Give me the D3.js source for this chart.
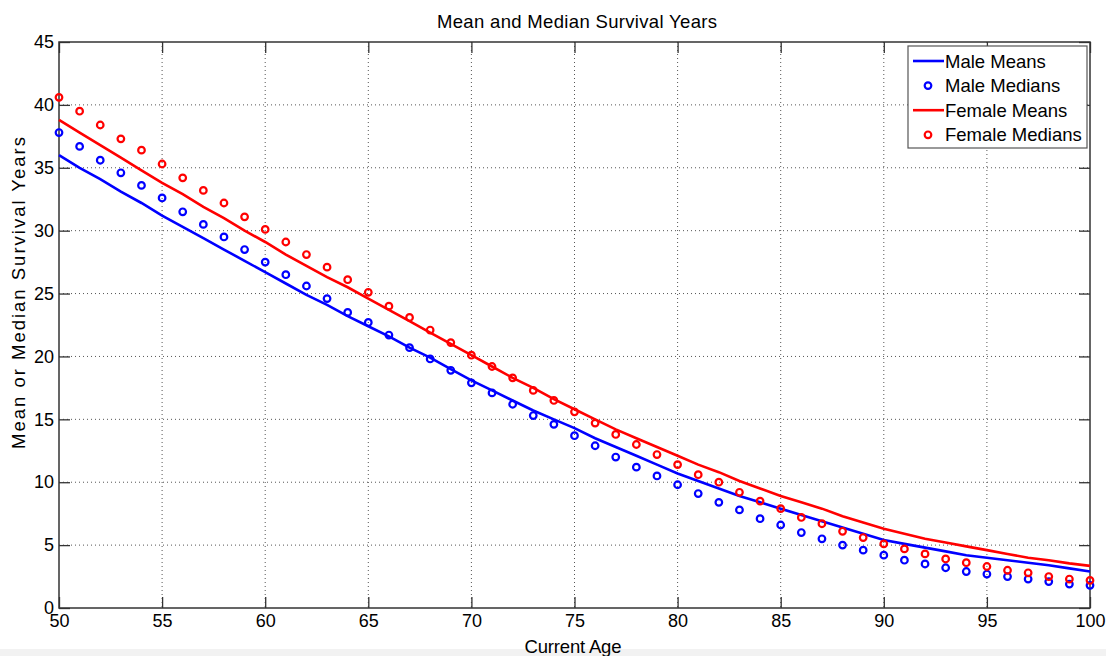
<!DOCTYPE html>
<html>
<head>
<meta charset="utf-8">
<script src="https://cdn.jsdelivr.net/npm/d3@7"></script>
<style>
body { margin: 0; background: #fff; }
text { font-family: "Liberation Sans", Arial, sans-serif; fill: #000; }
</style>
</head>
<body>
<svg id="chart" width="1106" height="656"></svg>
<script>
var ages = d3.range(50, 101);

var maleMeans = [36.0, 35.0, 34.1, 33.1, 32.2, 31.2, 30.3, 29.4, 28.5, 27.6,
  26.7, 25.8, 24.9, 24.1, 23.2, 22.4, 21.6, 20.7, 19.9, 19.0,
  18.1, 17.3, 16.5, 15.7, 15.0, 14.3, 13.5, 12.8, 12.1, 11.4,
  10.7, 10.1, 9.5, 8.9, 8.4, 7.9, 7.4, 6.9, 6.4, 5.9,
  5.4, 5.1, 4.8, 4.5, 4.2, 4.0, 3.8, 3.6, 3.4, 3.15, 2.9];

var maleMedians = [37.8, 36.7, 35.6, 34.6, 33.6, 32.6, 31.5, 30.5, 29.5, 28.5,
  27.5, 26.5, 25.6, 24.6, 23.5, 22.7, 21.7, 20.7, 19.8, 18.9,
  17.9, 17.1, 16.2, 15.3, 14.6, 13.7, 12.9, 12.0, 11.2, 10.5,
  9.8, 9.1, 8.4, 7.8, 7.1, 6.6, 6.0, 5.5, 5.0, 4.6,
  4.2, 3.8, 3.5, 3.2, 2.9, 2.7, 2.5, 2.3, 2.1, 1.9, 1.8];

var femaleMeans = [38.8, 37.8, 36.8, 35.8, 34.8, 33.8, 32.9, 31.9, 31.0, 30.0,
  29.1, 28.1, 27.2, 26.3, 25.5, 24.6, 23.7, 22.8, 21.9, 21.0,
  20.1, 19.2, 18.3, 17.5, 16.6, 15.8, 15.0, 14.2, 13.5, 12.8,
  12.1, 11.4, 10.8, 10.1, 9.5, 8.9, 8.4, 7.9, 7.3, 6.8,
  6.3, 5.9, 5.5, 5.2, 4.9, 4.6, 4.3, 4.0, 3.8, 3.55, 3.35];

var femaleMedians = [40.6, 39.5, 38.4, 37.3, 36.4, 35.3, 34.2, 33.2, 32.2, 31.1,
  30.1, 29.1, 28.1, 27.1, 26.1, 25.1, 24.0, 23.1, 22.1, 21.1,
  20.1, 19.2, 18.3, 17.3, 16.5, 15.6, 14.7, 13.8, 13.0, 12.2,
  11.4, 10.6, 10.0, 9.2, 8.5, 7.9, 7.2, 6.7, 6.1, 5.6,
  5.1, 4.7, 4.3, 3.9, 3.6, 3.3, 3.0, 2.8, 2.5, 2.3, 2.2];

var xTicks = [50, 55, 60, 65, 70, 75, 80, 85, 90, 95, 100];
var yTicks = [0, 5, 10, 15, 20, 25, 30, 35, 40, 45];

var margin = {top: 42, right: 16, bottom: 48, left: 59};
var width = 1106 - margin.left - margin.right;
var height = 656 - margin.top - margin.bottom;

var svg = d3.select('#chart');
svg.append('rect').attr('x', 0).attr('y', 649).attr('width', 1106).attr('height', 7).attr('fill', '#f2f2f2');

var g = svg.append('g').attr('transform', 'translate(' + margin.left + ',' + margin.top + ')');

var x = d3.scaleLinear().domain([50, 100]).range([0, width]);
var y = d3.scaleLinear().domain([0, 45]).range([height, 0]);

// grid
g.selectAll('.vgrid').data(xTicks.slice(1, -1)).enter().append('line')
  .attr('x1', d => x(d)).attr('x2', d => x(d)).attr('y1', 0).attr('y2', height)
  .attr('stroke', '#555').attr('stroke-width', 1).attr('stroke-dasharray', '1,3');
g.selectAll('.hgrid').data(yTicks.slice(1, -1)).enter().append('line')
  .attr('x1', 0).attr('x2', width).attr('y1', d => y(d)).attr('y2', d => y(d))
  .attr('stroke', '#555').attr('stroke-width', 1).attr('stroke-dasharray', '1,3');

// axes (ticks inside)
function styleAxis(sel) {
  sel.select('.domain').remove();
  sel.selectAll('line').attr('stroke', '#333').attr('stroke-width', 1.3);
  sel.selectAll('text').style('font-size', '18px').style('font-family', '"Liberation Sans", Arial, sans-serif');
}
g.append('g').attr('transform', 'translate(0,' + height + ')')
  .call(d3.axisBottom(x).tickValues(xTicks).tickSize(-11).tickPadding(6))
  .call(styleAxis);
g.append('g').call(d3.axisTop(x).tickValues(xTicks).tickSize(-11).tickFormat(''))
  .call(styleAxis);
g.append('g').call(d3.axisLeft(y).tickValues(yTicks).tickSize(-11).tickPadding(5))
  .call(styleAxis);
g.append('g').attr('transform', 'translate(' + width + ',0)')
  .call(d3.axisRight(y).tickValues(yTicks).tickSize(-11).tickFormat(''))
  .call(styleAxis);
g.append('rect').attr('width', width).attr('height', height)
  .attr('fill', 'none').attr('stroke', '#333').attr('stroke-width', 1.5);

var line = d3.line().x((d, i) => x(ages[i])).y(d => y(d));

function drawSeries(means, medians, color) {
  g.append('path').datum(means).attr('d', line)
    .attr('fill', 'none').attr('stroke', color).attr('stroke-width', 2.6);
  g.selectAll(null).data(medians).enter().append('circle')
    .attr('cx', (d, i) => x(ages[i])).attr('cy', d => y(d)).attr('r', 3.3)
    .attr('fill', 'none').attr('stroke', color).attr('stroke-width', 2.2);
}
drawSeries(maleMeans, maleMedians, '#0000ff');
drawSeries(femaleMeans, femaleMedians, '#ff0000');

// labels
svg.append('text').attr('x', 577).attr('y', 28).attr('text-anchor', 'middle')
  .attr('textLength', 280).attr('lengthAdjust', 'spacing')
  .style('font-size', '18.5px').text('Mean and Median Survival Years');
svg.append('text').attr('x', 573).attr('y', 653).attr('text-anchor', 'middle')
  .attr('textLength', 97).attr('lengthAdjust', 'spacing')
  .style('font-size', '18.5px').text('Current Age');
svg.append('text').attr('transform', 'translate(25,293) rotate(-90)')
  .attr('text-anchor', 'middle').attr('textLength', 312).attr('lengthAdjust', 'spacing')
  .style('font-size', '18.5px').text('Mean or Median Survival Years');

// legend
var legendItems = [
  {name: 'Male Means', color: '#0000ff', type: 'line'},
  {name: 'Male Medians', color: '#0000ff', type: 'dot'},
  {name: 'Female Means', color: '#ff0000', type: 'line'},
  {name: 'Female Medians', color: '#ff0000', type: 'dot'}
];
var lg = svg.append('g').attr('transform', 'translate(908,46)');
lg.append('rect').attr('width', 179).attr('height', 102)
  .attr('fill', '#fff').attr('stroke', '#555').attr('stroke-width', 1.2);
legendItems.forEach(function(it, i) {
  var cy = 15 + i * 24.6;
  if (it.type === 'line') {
    lg.append('line').attr('x1', 5).attr('x2', 36).attr('y1', cy).attr('y2', cy)
      .attr('stroke', it.color).attr('stroke-width', 2.6);
  } else {
    lg.append('circle').attr('cx', 20).attr('cy', cy).attr('r', 3.3)
      .attr('fill', 'none').attr('stroke', it.color).attr('stroke-width', 2.2);
  }
  lg.append('text').attr('x', 37).attr('y', cy + 6.5).style('font-size', '18.5px').text(it.name);
});
</script>
</body>
</html>
